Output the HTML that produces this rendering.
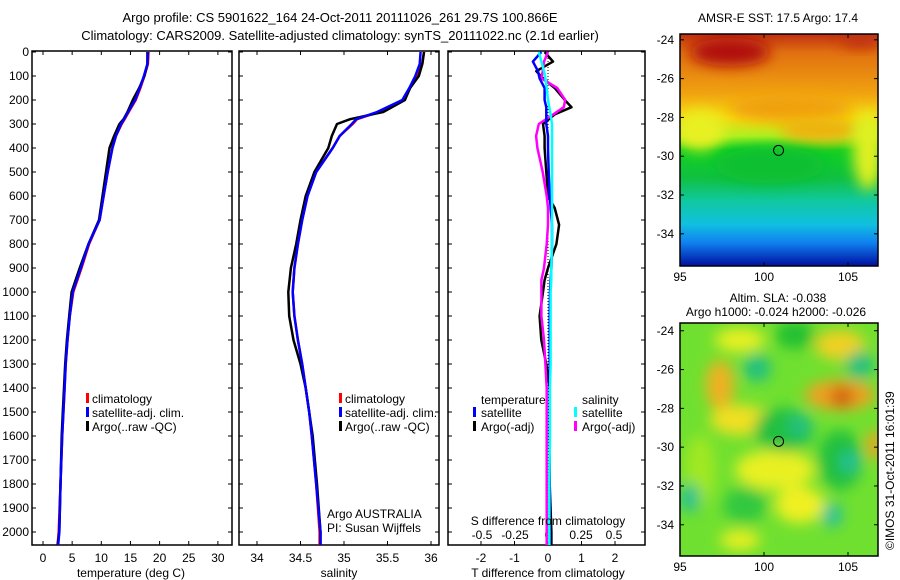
<!DOCTYPE html>
<html><head><meta charset="utf-8">
<style>
body{margin:0;background:#fff;}
svg{display:block;font-family:"Liberation Sans",Arial,sans-serif;}
text{fill:#000;}
</style></head>
<body>
<svg id="chart" width="900" height="580" viewBox="0 0 900 580" xmlns="http://www.w3.org/2000/svg">
<defs>
<linearGradient id="sstGrad" x1="0" y1="0" x2="0" y2="1">
<stop offset="0" stop-color="#c03010"/>
<stop offset="0.08" stop-color="#e07010"/>
<stop offset="0.25" stop-color="#f0a010"/>
<stop offset="0.36" stop-color="#f8d810"/>
<stop offset="0.44" stop-color="#b0f020"/>
<stop offset="0.5" stop-color="#10d020"/>
<stop offset="0.62" stop-color="#10c040"/>
<stop offset="0.72" stop-color="#10c8a0"/>
<stop offset="0.82" stop-color="#10c0e0"/>
<stop offset="0.9" stop-color="#1080f0"/>
<stop offset="1" stop-color="#0010a0"/>
</linearGradient>
<filter id="blur" x="-50%" y="-50%" width="200%" height="200%"><feGaussianBlur stdDeviation="7"/></filter>
<clipPath id="m2clip"><rect x="680" y="323" width="198" height="233"/></clipPath>
<clipPath id="m1clip"><rect x="680" y="34" width="198" height="232"/></clipPath>
</defs>

<text x="340" y="22" font-size="13" text-anchor="middle">Argo profile: CS 5901622_164 24-Oct-2011 20111026_261 29.7S 100.866E</text>
<text x="340" y="40" font-size="13" text-anchor="middle">Climatology: CARS2009. Satellite-adjusted climatology: synTS_20111022.nc (2.1d earlier)</text>

<g id="p1"></g>
<g id="p2"></g>
<g id="p3"></g>

<g font-size="12">
<rect x="86" y="393" width="3" height="10" fill="#f00"/><text x="92" y="403">climatology</text>
<rect x="86" y="407" width="3" height="10" fill="#00f"/><text x="92" y="417">satellite-adj. clim.</text>
<rect x="86" y="421" width="3" height="10" fill="#000"/><text x="92" y="431">Argo(..raw -QC)</text>
</g>
<g font-size="12">
<rect x="339" y="393" width="3" height="10" fill="#f00"/><text x="345" y="403">climatology</text>
<rect x="339" y="407" width="3" height="10" fill="#00f"/><text x="345" y="417">satellite-adj. clim.</text>
<rect x="339" y="421" width="3" height="10" fill="#000"/><text x="345" y="431">Argo(..raw -QC)</text>
</g>
<g font-size="12">
<text x="481" y="404">temperature</text>
<rect x="473" y="407" width="3" height="10" fill="#00f"/><text x="481" y="417">satellite</text>
<rect x="473" y="421" width="3" height="10" fill="#000"/><text x="481" y="431">Argo(-adj)</text>
<text x="582" y="404">salinity</text>
<rect x="574" y="407" width="3" height="10" fill="#0ff"/><text x="582" y="417">satellite</text>
<rect x="574" y="421" width="3" height="10" fill="#f0f"/><text x="582" y="431">Argo(-adj)</text>
</g>
<text x="327" y="518" font-size="12">Argo AUSTRALIA</text>
<text x="327" y="532" font-size="12">PI: Susan Wijffels</text>
<text x="548" y="525" font-size="12" text-anchor="middle">S difference from climatology</text>

<text x="778" y="22" font-size="12" text-anchor="middle">AMSR-E SST: 17.5 Argo: 17.4</text>
<g clip-path="url(#m1clip)">
<rect x="680" y="34" width="198" height="232" fill="url(#sstGrad)"/>
<ellipse cx="730" cy="52" rx="40" ry="14" fill="#b01010" filter="url(#blur)"/>
<ellipse cx="860" cy="40" rx="20" ry="8" fill="#c03010" filter="url(#blur)"/>
<ellipse cx="790" cy="108" rx="60" ry="14" fill="#f0a010" filter="url(#blur)"/>
<ellipse cx="820" cy="130" rx="40" ry="12" fill="#f0b010" filter="url(#blur)"/>
<ellipse cx="700" cy="130" rx="25" ry="20" fill="#e8f020" filter="url(#blur)"/>
<ellipse cx="770" cy="165" rx="55" ry="18" fill="#10c030" filter="url(#blur)"/>
<ellipse cx="868" cy="150" rx="15" ry="40" fill="#e0f020" filter="url(#blur)"/>
</g>
<g id="m1axes"></g>

<text x="778" y="302" font-size="12" text-anchor="middle">Altim. SLA: -0.038</text>
<text x="776" y="316" font-size="12" text-anchor="middle">Argo h1000: -0.024 h2000: -0.026</text>
<g clip-path="url(#m2clip)">
<rect x="680" y="323" width="198" height="233" fill="#70e030"/>
<g filter="url(#blur)">
<ellipse cx="740" cy="340" rx="25" ry="12" fill="#e8f020"/>
<ellipse cx="840" cy="345" rx="25" ry="15" fill="#f0d020"/>
<ellipse cx="720" cy="385" rx="14" ry="25" fill="#f0b020"/>
<ellipse cx="840" cy="395" rx="35" ry="15" fill="#f0a020"/>
<ellipse cx="842" cy="397" rx="12" ry="10" fill="#d06010"/>
<ellipse cx="740" cy="420" rx="30" ry="15" fill="#f0e020"/>
<ellipse cx="875" cy="445" rx="8" ry="15" fill="#f0a020"/>
<ellipse cx="775" cy="470" rx="40" ry="20" fill="#e8f020"/>
<ellipse cx="800" cy="505" rx="25" ry="18" fill="#f0f020"/>
<ellipse cx="740" cy="540" rx="20" ry="10" fill="#e8f020"/>
<ellipse cx="700" cy="470" rx="15" ry="35" fill="#a0e820"/>
<ellipse cx="757" cy="368" rx="14" ry="14" fill="#20c080"/>
<ellipse cx="784" cy="430" rx="30" ry="22" fill="#20c040"/>
<ellipse cx="800" cy="425" rx="12" ry="12" fill="#20c080"/>
<ellipse cx="840" cy="460" rx="22" ry="30" fill="#20c040"/>
<ellipse cx="850" cy="462" rx="9" ry="10" fill="#20c0a0"/>
<ellipse cx="832" cy="515" rx="10" ry="12" fill="#20c0a0"/>
<ellipse cx="690" cy="498" rx="10" ry="15" fill="#20c090"/>
<ellipse cx="860" cy="365" rx="14" ry="14" fill="#20c080"/>
<ellipse cx="745" cy="505" rx="22" ry="18" fill="#30c840"/>
<ellipse cx="795" cy="335" rx="20" ry="14" fill="#20c030"/>
</g>
</g>
<g id="m2axes"></g>
<text transform="translate(894,550) rotate(-90)" font-size="12">©IMOS 31-Oct-2011 16:01:39</text>

<script>
const depthArgo = [0,50,100,150,200,250,280,300,350,400,500,600,700,800,900,1000,1100,1200,1300,1400,1500,1600,1800,2000,2054];
const tempArgo  = [17.9,17.9,17.4,16.5,15.4,14.5,13.8,13.1,12.2,11.4,10.8,10.2,9.6,7.8,6.3,4.9,4.5,4.1,3.8,3.6,3.4,3.2,3.0,2.8,2.5];
const tempClim  = [18.1,18.0,17.4,16.7,15.9,14.7,14.0,13.5,12.5,11.9,11.1,10.4,9.7,7.9,6.6,5.2,4.6,4.2,3.9,3.7,3.5,3.3,3.0,2.7,2.5];
const tempSat   = [18.0,17.9,17.3,16.6,15.8,14.6,13.9,13.4,12.5,11.9,11.1,10.4,9.7,7.8,6.5,5.1,4.6,4.2,3.9,3.7,3.5,3.3,3.0,2.8,2.6];
const salArgo   = [35.92,35.9,35.86,35.76,35.7,35.45,35.07,34.92,34.86,34.82,34.66,34.56,34.5,34.45,34.39,34.36,34.37,34.42,34.5,34.56,34.6,34.64,34.69,34.73,34.73];
const salClim   = [35.92,35.9,35.84,35.76,35.68,35.4,35.15,35.1,34.95,34.87,34.68,34.58,34.52,34.47,34.43,34.41,34.43,34.47,34.52,34.56,34.6,34.63,34.68,34.72,34.72];
const salSat    = [35.88,35.87,35.82,35.75,35.67,35.38,35.14,35.09,34.95,34.87,34.68,34.58,34.52,34.47,34.43,34.41,34.43,34.47,34.52,34.56,34.6,34.63,34.68,34.73,34.73];
const depthDiff = [0,40,80,110,150,200,230,260,300,350,400,500,600,650,720,800,900,950,1000,1100,1200,1300,1400,1600,1800,2000,2054];
const tDiffArgo = [-0.1,0.15,-0.35,-0.15,0.2,0.5,0.7,0.2,-0.15,-0.1,-0.1,-0.05,0,0.2,0.33,0.25,0,-0.1,-0.15,-0.25,-0.2,-0.05,0.05,0.05,0.05,0.1,0.1];
const tDiffSat  = [-0.2,-0.45,-0.3,-0.25,-0.1,-0.1,-0.05,-0.05,-0.05,0,0,0.02,0.05,0.08,0.12,0.12,0.1,0.08,0.06,0.05,0.05,0.05,0.05,0.05,0.05,0.05,0.05];
const sDiffArgo = [0,-0.03,-0.04,-0.05,0.07,0.13,0.12,0.04,-0.07,-0.09,-0.08,-0.04,-0.01,0,0,-0.01,-0.03,-0.05,-0.05,-0.05,-0.03,-0.02,-0.01,-0.01,-0.01,-0.01,-0.01];
const sDiffSat  = [-0.07,-0.05,-0.03,-0.02,-0.01,0.0,0.01,0.02,0.03,0.03,0.03,0.03,0.03,0.03,0.03,0.03,0.025,0.025,0.02,0.02,0.02,0.02,0.015,0.015,0.01,0.01,0.01];
const depthTicks = [0,100,200,300,400,500,600,700,800,900,1000,1100,1200,1300,1400,1500,1600,1700,1800,1900,2000];
const tempTicks = [0,5,10,15,20,25,30];
const salTicks = [34,34.5,35,35.5,36];
const salTickLabels = ["34","34.5","35","35.5","36"];
const tdTicks = [-2,-1,0,1,2];
const sdTicks = [-0.5,-0.25,0,0.25,0.5];
const sdTickLabels = ["-0.5","-0.25","0","0.25","0.5"];
const lonTicks = [95,100,105];
const latTicks = [-24,-26,-28,-30,-32,-34];
const floatLon = 100.866, floatLat = -29.7;

const NS="http://www.w3.org/2000/svg";
function el(tag, attrs, parent){const e=document.createElementNS(NS,tag);for(const k in attrs)e.setAttribute(k,attrs[k]);parent.appendChild(e);return e;}
const PT = 51, PB = 545;
const yD = d => 52 + d*0.24;
const xT = v => 43 + v*5.83;
const xS = v => 257 + (v-34)*87;
const xTD = v => 548 + v*33.5;
const xSD = v => 548 + v*132;

function panel(g, x0, x1, showDepth){
  const f=el('rect',{x:x0,y:PT,width:x1-x0,height:PB-PT,fill:'none',stroke:'#000','stroke-width':1.5},g);
  
  
  depthTicks.forEach(d=>{
    el('line',{x1:x0,x2:x0+4,y1:yD(d),y2:yD(d),stroke:'#000'},g);
    el('line',{x1:x1,x2:x1-4,y1:yD(d),y2:yD(d),stroke:'#000'},g);
    if(showDepth){const t=el('text',{x:x0-3,y:yD(d)+4,'font-size':12,'text-anchor':'end'},g);t.textContent=d;
      
      }
  });
}
function xticks(g, ticks, labels, fx, ty){
  ticks.forEach((v,i)=>{
    el('line',{x1:fx(v),x2:fx(v),y1:PB,y2:PB-4,stroke:'#000'},g);
    el('line',{x1:fx(v),x2:fx(v),y1:PT,y2:PT+4,stroke:'#000'},g);
    const t=el('text',{x:fx(v),y:ty,'font-size':12,'text-anchor':'middle'},g);t.textContent=labels[i];
    
    
  });
}
function line(g, xs, ds, fx, color, name, w){
  const p=ds.map((d,i)=>(i?'L':'M')+fx(xs[i]).toFixed(1)+','+yD(d).toFixed(1)).join('');
  const e=el('path',{d:p,fill:'none',stroke:color,'stroke-width':w||2.5,'stroke-linejoin':'round'},g);
  
  
}
const p1=document.getElementById('p1'), p2=document.getElementById('p2'), p3=document.getElementById('p3');
panel(p1,32,232,true);
xticks(p1,tempTicks,tempTicks.map(String),xT,562);
let t=el('text',{x:131,y:577,'font-size':12,'text-anchor':'middle'},p1);t.textContent='temperature (deg C)';


line(p1,tempClim,depthArgo,xT,'#f00','temp-climatology-line');
line(p1,tempArgo,depthArgo,xT,'#000','temp-argo-line');
line(p1,tempSat,depthArgo,xT,'#00f','temp-satellite-line');

panel(p2,239,439,false);
xticks(p2,salTicks,salTickLabels,xS,562);
t=el('text',{x:339,y:577,'font-size':12,'text-anchor':'middle'},p2);t.textContent='salinity';


line(p2,salClim,depthArgo,xS,'#f00','sal-climatology-line');
line(p2,salArgo,depthArgo,xS,'#000','sal-argo-line');
line(p2,salSat,depthArgo,xS,'#00f','sal-satellite-line');

panel(p3,448,645,false);
xticks(p3,tdTicks,tdTicks.map(String),xTD,562);
sdTicks.forEach((v,i)=>{const s=el('text',{x:xSD(v),y:539,'font-size':12,'text-anchor':'middle'},p3);s.textContent=sdTickLabels[i];
  
  });
t=el('text',{x:548,y:577,'font-size':12,'text-anchor':'middle'},p3);t.textContent='T difference from climatology';


el('line',{x1:xTD(0),x2:xTD(0),y1:yD(0),y2:yD(2054),stroke:'#000','stroke-dasharray':'1,2'},p3);
line(p3,tDiffArgo,depthDiff,xTD,'#000','t-diff-argo-line',2.5);
line(p3,sDiffArgo,depthDiff,xSD,'#f0f','s-diff-argo-line',2.5);
line(p3,tDiffSat,depthDiff,xTD,'#00f','t-diff-satellite-line',2.5);
line(p3,sDiffSat,depthDiff,xSD,'#0ff','s-diff-satellite-line',2.5);

function mapAxes(g, top, bottom, latTop, latPer){
  const mx = lon => 680 + (lon-95)*16.8;
  const my = lat => top + (latTop-lat)*latPer;
  const f=el('rect',{x:680,y:top,width:198,height:bottom-top,fill:'none',stroke:'#000','stroke-width':1.5},g);
  
  
  lonTicks.forEach(v=>{el('line',{x1:mx(v),x2:mx(v),y1:bottom,y2:bottom-4,stroke:'#000'},g);
    el('line',{x1:mx(v),x2:mx(v),y1:top,y2:top+4,stroke:'#000'},g);
    const s=el('text',{x:mx(v),y:bottom+15,'font-size':12,'text-anchor':'middle'},g);s.textContent=v;
    
    });
  latTicks.forEach(v=>{el('line',{x1:878,x2:874,y1:my(v),y2:my(v),stroke:'#000'},g);
    el('line',{x1:680,x2:684,y1:my(v),y2:my(v),stroke:'#000'},g);
    const s=el('text',{x:674,y:my(v)+4,'font-size':12,'text-anchor':'end'},g);s.textContent=v;
    
    });
  const c=el('circle',{cx:mx(floatLon),cy:my(floatLat),r:5,fill:'none',stroke:'#000','stroke-width':1},g);
  
  
}
mapAxes(document.getElementById('m1axes'),34,266,-23.7,19.4);
mapAxes(document.getElementById('m2axes'),323,556,-23.6,19.4);
</script>
</svg>
</body></html>
